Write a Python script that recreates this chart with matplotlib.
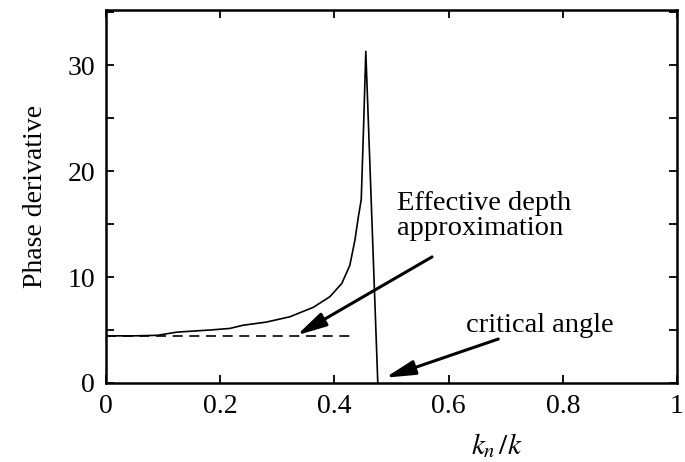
import matplotlib
matplotlib.use("Agg")
import matplotlib.pyplot as plt
from matplotlib.ticker import MultipleLocator

plt.rcParams['font.family'] = ['Liberation Serif', 'DejaVu Serif']
plt.rcParams['mathtext.fontset'] = 'stix'

# Data
kx = [0.0, 0.05, 0.09, 0.124, 0.182, 0.217, 0.24, 0.281, 0.322, 0.363, 0.392, 0.413,
      0.427, 0.436, 0.442, 0.447, 0.451, 0.455, 0.476]
phase = [4.45, 4.45, 4.5, 4.8, 5.0, 5.15, 5.45, 5.75, 6.25, 7.14, 8.14, 9.4,
         11.1, 13.5, 15.7, 17.3, 24.0, 31.3, 0.0]
approx_x = [0.0, 0.436]
approx_y = [4.45, 4.45]

x_ticks = [0, 0.2, 0.4, 0.6, 0.8, 1]
x_ticklabels = ['0', '0.2', '0.4', '0.6', '0.8', '1']
y_ticks = [0, 10, 20, 30]
y_ticklabels = ['0', '10', '20', '30']

fig = plt.figure(figsize=(6.85, 4.62), dpi=100)
ax = fig.add_axes([106/685, 1-383/462, (677-106)/685, (383-10)/462])

ax.plot(kx, phase, color='black', lw=1.2)
ax.plot(approx_x, approx_y, color='black', lw=1.2, ls=(0, (6, 4)))

ax.set_xlim(0, 1)
ax.set_ylim(0, 35.2)
ax.set_xticks(x_ticks)
ax.set_xticklabels(x_ticklabels)
ax.set_yticks(y_ticks)
ax.set_yticklabels(y_ticklabels)
ax.yaxis.set_minor_locator(MultipleLocator(5))
ax.tick_params(which='both', direction='in', top=True, right=True, length=6, width=1.3,
               labelsize=20, pad=8)
for s in ax.spines.values():
    s.set_linewidth(1.8)

ax.set_ylabel('Phase derivative', fontsize=20, labelpad=14)
fig.text(497/685, 1-446/462, r'$k_n\,/k$', fontsize=21, ha='center', va='center')

arrow = dict(arrowstyle='-|>,head_length=0.9,head_width=0.22', lw=2.2, color='black',
             mutation_scale=20, shrinkA=0, shrinkB=0)
ax.annotate('', xy=(0.334, 4.5), xytext=(0.571, 11.9), arrowprops=arrow)
ax.annotate('', xy=(0.489, 0.5), xytext=(0.687, 4.15), arrowprops=arrow)

fig.text(397/685, 1-216/462, 'Effective depth\napproximation', fontsize=20.5,
         ha='left', va='center', linespacing=0.95)
fig.text(466/685, 1-326/462, 'critical angle', fontsize=20.5, ha='left', va='center')

fig.savefig('out.png', dpi=100)
